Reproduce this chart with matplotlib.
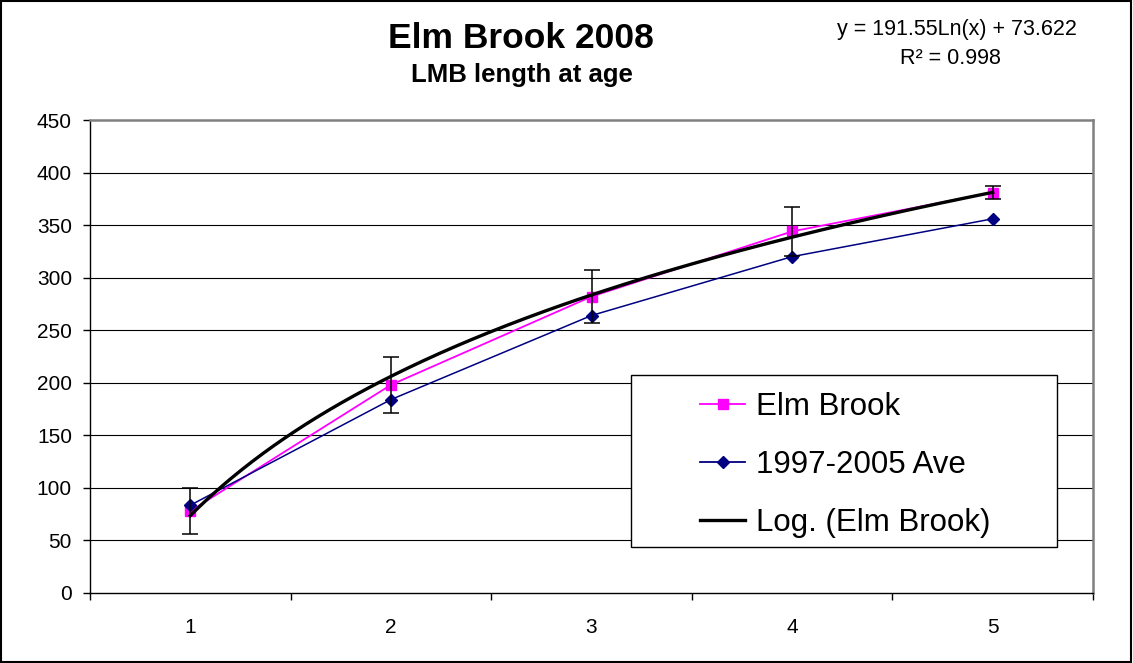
import numpy as np
import matplotlib
matplotlib.use("Agg")
import matplotlib.pyplot as plt
from matplotlib.patches import Rectangle
from matplotlib.lines import Line2D

plt.rcParams['font.family'] = ['Liberation Sans', 'DejaVu Sans']

ages = [1, 2, 3, 4, 5]
age_labels = ['1', '2', '3', '4', '5']
elm_brook = [78, 198, 282, 344, 381]
elm_err = [22, 27, 25, 23, 6.5]
ave_1997_2005 = [83.5, 184, 264, 320, 356]
y_ticks = [0, 50, 100, 150, 200, 250, 300, 350, 400, 450]

fig = plt.figure(figsize=(11.33, 6.63), dpi=100)
ax = fig.add_axes([90/1133, 1-593/663, (1093-90)/1133, (593-120)/663])

# gridlines
for v in y_ticks[1:-1]:
    ax.axhline(v, color='black', lw=0.8, zorder=0)

ax.plot(ages, elm_brook, color='#FF00FF', lw=1.3, marker='s', ms=7, zorder=3)
ax.errorbar(ages, elm_brook, yerr=elm_err, fmt='none', ecolor='black', elinewidth=1.1, capsize=6, capthick=1.1, zorder=4)
ax.plot(ages, ave_1997_2005, color='#000080', lw=1.1, marker='D', ms=6.5, zorder=3)

# logarithmic trendline fitted to Elm Brook data
a, b = np.polyfit(np.log(ages), elm_brook, 1)
xs = np.linspace(1, 5, 300)
ax.plot(xs, a*np.log(xs) + b, color='black', lw=2.4, zorder=5)

ax.set_xlim(0.5, 5.5)
ax.set_ylim(0, 450)
ax.set_yticks(y_ticks)
ax.set_yticklabels([str(v) for v in y_ticks], fontsize=15)
ax.set_xticks([0.5, 1.5, 2.5, 3.5, 4.5, 5.5])
ax.set_xticklabels([])
ax.set_xticks(ages, minor=True)
ax.set_xticklabels(age_labels, minor=True, fontsize=15)
ax.tick_params(axis='x', which='minor', length=0, pad=18)
ax.tick_params(axis='x', which='major', length=5, width=1, direction='out')
ax.tick_params(axis='y', length=5, width=1, direction='out', pad=8)
for s in ['left', 'bottom']:
    ax.spines[s].set_color('black')
    ax.spines[s].set_linewidth(1)
for s in ['top', 'right']:
    ax.spines[s].set_color('#808080')
    ax.spines[s].set_linewidth(1.8)

# legend
rect = Rectangle((631/1133, 1-547/663), (1057-631)/1133, (547-375)/663,
                 transform=fig.transFigure, facecolor='white', edgecolor='black', lw=1, zorder=10)
fig.patches.append(rect)
handles = [
    Line2D([], [], color='#FF00FF', lw=1.3, marker='s', ms=7),
    Line2D([], [], color='#000080', lw=1.3, marker='D', ms=6.5),
    Line2D([], [], color='black', lw=2.4),
]
labels = ['Elm Brook', '1997-2005 Ave', 'Log. (Elm Brook)']
leg = fig.legend(handles, labels, loc='upper left', bbox_to_anchor=(700/1133, 1-392/663),
                 frameon=False, fontsize=22.5, handlelength=1.45, handletextpad=0.35,
                 labelspacing=0.9, borderpad=0, borderaxespad=0)
leg.set_zorder(11)

# titles
fig.text(521/1133, 1-38/663, 'Elm Brook 2008', ha='center', va='center', fontsize=25.5, fontweight='bold')
fig.text(522/1133, 1-75/663, 'LMB length at age', ha='center', va='center', fontsize=18.5, fontweight='bold')
fig.text(957/1133, 1-30/663, 'y = 191.55Ln(x) + 73.622', ha='center', va='center', fontsize=15.5)
fig.text(950/1133, 1-58/663, 'R² = 0.998', ha='center', va='center', fontsize=15.5)

# figure border
fig.patches.append(Rectangle((0.001, 0.002), 0.997, 0.996, transform=fig.transFigure,
                             facecolor='none', edgecolor='black', lw=1.5, zorder=20))

fig.savefig('out.png', dpi=100)
